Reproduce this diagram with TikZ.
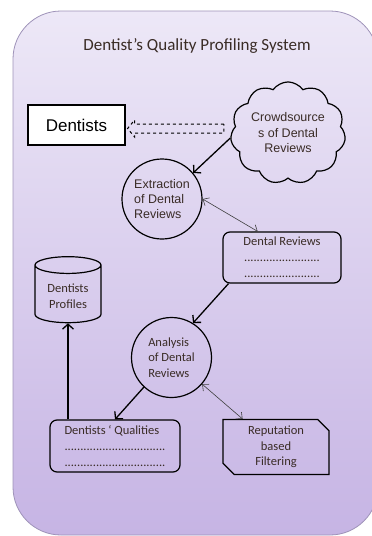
\documentclass[tikz,border=0pt]{standalone}
\usepackage{fontspec}
\setmainfont{Carlito}
\newfontfamily\arialfont{Liberation Sans}
\usepackage{tikz}
\usetikzlibrary{arrows.meta,shapes.geometric,shapes.misc,shapes.symbols}
\definecolor{bgtop}{RGB}{237,232,247}
\definecolor{bgbot}{RGB}{198,180,228}
\definecolor{rim}{RGB}{158,146,184}
\definecolor{ink}{RGB}{58,44,38}
\tikzstyle{title}=[text=ink,font=\fontsize{17}{20}\selectfont]
\tikzstyle{entity}=[rectangle,draw=black,line width=1.2pt,fill=white,minimum width=97pt,minimum height=40pt,font=\arialfont\fontsize{17}{20}\selectfont]
\tikzstyle{source}=[cloud,draw=black,line width=1.2pt,cloud puffs=11,cloud puff arc=110,aspect=1.15,minimum width=115pt,minimum height=98pt,inner sep=0pt,align=center,text=ink,font=\arialfont\fontsize{12.5}{15.5}\selectfont]
\tikzstyle{proc}=[circle,draw=black,line width=1.2pt,minimum size=80pt,inner sep=0pt,align=left,text=ink,font=\fontsize{12.5}{15.5}\selectfont]
\tikzstyle{listbox}=[rectangle,rounded corners=7pt,draw=black,line width=1.2pt,minimum width=118pt,minimum height=51pt,align=center,text=ink,font=\fontsize{12.5}{16}\selectfont]
\tikzstyle{datastore}=[cylinder,shape border rotate=90,aspect=0.35,draw=black,line width=1.2pt,minimum width=66pt,minimum height=66pt,align=center,text=ink,font=\fontsize{12.5}{15.5}\selectfont]
\tikzstyle{filterbox}=[chamfered rectangle,chamfered rectangle corners={north east,south west},chamfered rectangle xsep=8pt,draw=black,line width=1.2pt,minimum width=106pt,minimum height=50pt,align=center,text=ink,font=\fontsize{12.5}{15.5}\selectfont]
\tikzstyle{flow}=[line width=1.3pt,-{Straight Barb[length=5pt,width=11pt]}]
\tikzstyle{link}=[line width=0.6pt,draw=black!75,{Straight Barb[length=5pt,width=9pt]}-{Straight Barb[length=5pt,width=9pt]}]

\begin{document}
\begin{tikzpicture}[x=1pt,y=-1pt]
        \useasboundingbox (0,0) rectangle (372,536);
        \clip (0,0) rectangle (372,536);
        \path[rounded corners=48pt,top color=bgtop,bottom color=bgbot,draw=rim,line width=0.8pt] (13,11) rectangle (378,535);

        \node at (197,46) [title] (title) {Dentist’s Quality Profiling System};
        \node at (76.5,125) [entity] (dent) {Dentists};
        \node at (288,133) [source] (crowd) {Crowdsource\\s of Dental\\Reviews};
        \node at (162,199) [proc,font=\arialfont\fontsize{12.5}{15}\selectfont] (extract) {Extraction\\of Dental\\Reviews};
        \node at (282,257.5) [listbox] (reviews) {Dental Reviews\\........................\\........................};
        \node at (68,296) [datastore] (profiles) {Dentists\\Profiles};
        \node at (171.5,357.5) [proc] (analyse) {Analysis\\of Dental\\Reviews};
        \node at (115,446) [listbox,minimum width=130pt,minimum height=52pt,align=left] (quals) {Dentists ‘ Qualities\\................................\\................................};
        \node at (276,447) [filterbox] (filter) {Reputation\\based\\Filtering};

        \coordinate (tail) at ([xshift=-7pt,yshift=4.5pt]crowd.west);
        \coordinate (tip) at ([xshift=2pt]tail -| dent.east);
        \draw [dashed,line width=1pt] ([yshift=4.5pt]tail) -- ([shift={(7,-4.5)}]tip) -- ([shift={(7,-8.5)}]tip) -- (tip) -- ([shift={(7,8.5)}]tip) -- ([shift={(7,4.5)}]tip) -- ([yshift=-4.5pt]tail) -- cycle;
        \draw [flow] (crowd.185) to (extract.40);
        \draw [link] (extract.0) to (reviews.133);
        \draw [flow] (reviews.206) to (analyse.58);
        \draw [flow] (quals.north -| profiles.south) to (profiles.south);
        \draw [flow] (analyse.227) to (quals.north);
        \draw [link] (analyse.-41) to (filter.140);
\end{tikzpicture}
\end{document}
